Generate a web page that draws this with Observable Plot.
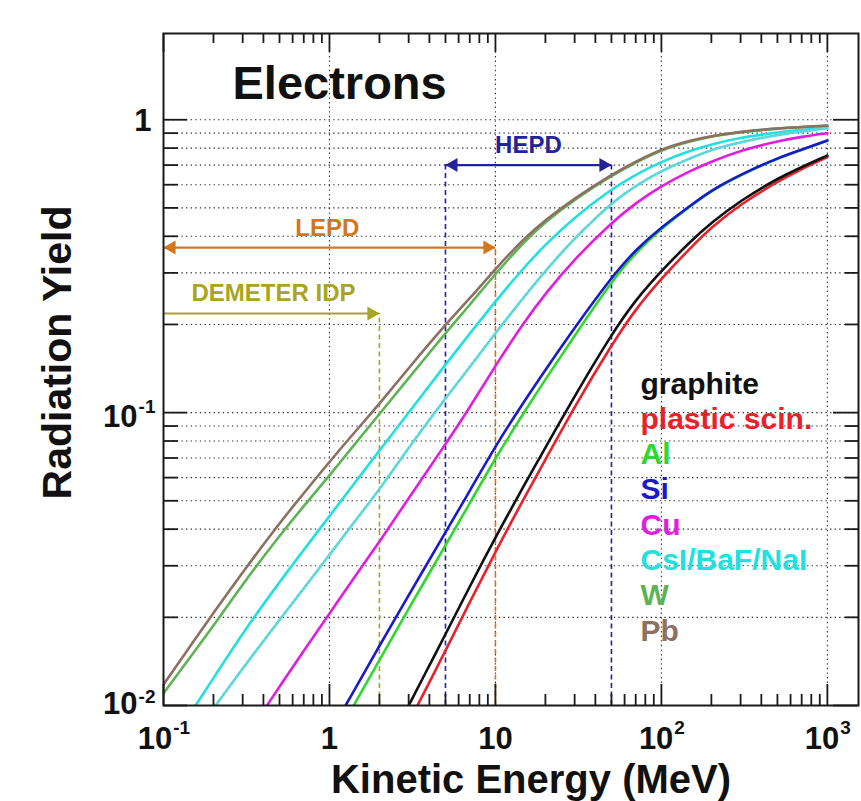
<!DOCTYPE html>
<html><head><meta charset="utf-8">
<script src="https://cdn.jsdelivr.net/npm/d3@7"></script>
<script src="https://cdn.jsdelivr.net/npm/@observablehq/plot@0.6"></script>
<style>body{margin:0;background:#fff;font-family:"Liberation Sans",Arial,sans-serif;}</style>
</head><body><div id="chart"></div>
<script>
// ---------- data ----------
const materials = ["graphite","plastic scin.","Al","Si","Cu","CsI/BaF/NaI","W","Pb"];
const materialColors = ["#111111","#e8222b","#2ed82e","#1a1ac8","#e01ee0","#22e0e0","#5cb454","#8c7062"];

const graphiteE = [3,4,5,7,10,15,20,30,50,70,100,150,200,300,500,700,1000];
const graphiteY = [0.01,0.0137,0.0175,0.0255,0.0375,0.057,0.076,0.114,0.185,0.243,0.305,0.385,0.445,0.53,0.63,0.69,0.755];
const plasticE = [3.39,4,5,7,10,15,20,30,50,70,100,150,200,300,500,700,1000];
const plasticY = [0.01,0.012,0.0154,0.0225,0.0335,0.0515,0.069,0.105,0.17,0.226,0.287,0.366,0.43,0.515,0.615,0.68,0.745];
const alE = [1.4,2,3,5,7,10,15,20,30,50,70,100,150,200,300,500,700,1000];
const alY = [0.01,0.0143,0.0214,0.0352,0.049,0.07,0.101,0.13,0.183,0.28,0.352,0.425,0.507,0.572,0.648,0.738,0.788,0.848];
const siE = [1.25,2,3,5,7,10,15,20,30,50,70,100,150,200,300,500,700,1000];
const siY = [0.01,0.016,0.0238,0.039,0.054,0.077,0.11,0.14,0.195,0.29,0.36,0.43,0.51,0.575,0.65,0.74,0.79,0.85];
const cuE = [0.42,0.5,0.7,1,1.5,2,3,5,7,10,15,20,30,50,70,100,150,200,300,500,700,1000];
const cuY = [0.01,0.0116,0.0154,0.0206,0.0288,0.0362,0.051,0.078,0.104,0.145,0.205,0.255,0.335,0.445,0.52,0.595,0.67,0.72,0.785,0.845,0.875,0.90];
const csiE = [0.156,0.2,0.3,0.5,0.7,1,1.5,2,3,5,7,10,15,20,30,50,70,100,150,200,300,500,700,1000];
const csiY = [0.01,0.0124,0.0177,0.0264,0.034,0.0443,0.06,0.0742,0.10,0.146,0.186,0.24,0.315,0.375,0.465,0.58,0.65,0.72,0.785,0.825,0.87,0.905,0.925,0.94];
const nalE = [0.206,0.3,0.5,0.7,1,1.5,2,3,5,7,10,15,20,30,50,70,100,150,200,300,500,700,1000];
const nalY = [0.01,0.0134,0.0196,0.0251,0.0327,0.0443,0.0546,0.076,0.112,0.143,0.187,0.25,0.305,0.395,0.52,0.595,0.67,0.74,0.79,0.84,0.888,0.912,0.935];
const wE = [0.1,0.15,0.2,0.3,0.5,0.7,1,1.5,2,3,5,7,10,15,20,30,50,70,100,150,200,300,500,700,1000];
const wY = [0.0110,0.0150,0.0187,0.026,0.038,0.048,0.061,0.081,0.099,0.131,0.187,0.233,0.298,0.385,0.448,0.535,0.645,0.715,0.79,0.845,0.878,0.908,0.933,0.944,0.954];
const pbE = [0.1,0.15,0.2,0.3,0.5,0.7,1,1.5,2,3,5,7,10,15,20,30,50,70,100,150,200,300,500,700,1000];
const pbY = [0.0118,0.0164,0.0207,0.0285,0.042,0.053,0.068,0.089,0.107,0.142,0.2,0.245,0.31,0.395,0.455,0.54,0.65,0.72,0.795,0.85,0.88,0.91,0.935,0.945,0.955];

// annotations: detector energy ranges
const annLabels = ["DEMETER IDP","LEPD","HEPD"];
const annColors = ["#a8a426","#d4761c","#22229a"];
const annFrom = [0.1, 0.1, 5];
const annTo = [2, 10, 50];
const annLevel = [0.218, 0.366, 0.70];
const annLabelE = [0.46, 0.97, 15.8];
const annStartHead = [false, true, true];

// ticks
const xMajor = [0.1, 1, 10, 100, 1000];
const xTickBase = ["10","1","10","10","10"];
const xTickExp = ["-1","","","2","3"];
const yMajor = [0.01, 0.1, 1];
const yTickBase = ["10","10","1"];
const yTickExp = ["-2","-1",""];

// ---------- layout ----------
const W = 861, H = 801, mL = 163, mR = 3, mT = 33, mB = 96;
const fW = W - mL - mR, fH = H - mT - mB;
const FONT = "Liberation Sans, Arial, sans-serif";

const xMinor = [], yMinor = [];
for (const k of [-1,0,1,2]) for (let m = 2; m <= 9; m++) xMinor.push(+(m * 10 ** k).toPrecision(3));
for (const k of [-2,-1,0]) for (let m = 2; m <= 9; m++) { const v = +(m * 10 ** k).toPrecision(3); if (v < 1.97) yMinor.push(v); }

const series = [
  {E: plasticE, Y: plasticY, c: materialColors[1]},
  {E: graphiteE, Y: graphiteY, c: materialColors[0]},
  {E: alE, Y: alY, c: materialColors[2]},
  {E: siE, Y: siY, c: materialColors[3]},
  {E: cuE, Y: cuY, c: materialColors[4]},
  {E: csiE, Y: csiY, c: materialColors[5]},
  {E: wE, Y: wY, c: materialColors[6]},
  {E: pbE, Y: pbY, c: materialColors[7]}
];

const gridStyle = {stroke: "#333", strokeWidth: 1.1, strokeDasharray: "1.4,3.2"};
const marks = [];
// grid
marks.push(Plot.ruleY([...yMinor, 0.1, 1], gridStyle));
marks.push(Plot.ruleX(xMajor.slice(1), gridStyle));
// vertical dashed annotation lines
annLabels.forEach((lab, i) => {
  const xs = annStartHead[i] && annFrom[i] > 0.1 ? [annFrom[i], annTo[i]] : [annTo[i]];
  marks.push(Plot.ruleX(xs, {x: d => d, y1: 0.01, y2: annLevel[i], stroke: annColors[i], strokeWidth: 1.6, strokeDasharray: "5,3.5"}));
});
// curves
const lineOpts = {x: "E", y: "Y", strokeWidth: 2.6, curve: "basis", clip: true};
for (const s of series) {
  marks.push(Plot.line(s.E.map((e, j) => ({E: e, Y: s.Y[j]})), {...lineOpts, stroke: s.c}));
}
// dotted second cyan curve
marks.push(Plot.line(nalE.map((e, j) => ({E: e, Y: nalY[j]})), {...lineOpts, stroke: "#5cd8dc", strokeWidth: 2.8, strokeDasharray: "2.2,2.2"}));
// annotation arrows
annLabels.forEach((lab, i) => {
  marks.push(Plot.ruleY([annLevel[i]], {y: d => d, x1: annFrom[i], x2: annTo[i], stroke: annColors[i], strokeWidth: 2.2}));
  marks.push(Plot.dot([annTo[i]], {x: d => d, y: annLevel[i], symbol: "triangle", r: 5.2, rotate: 90, dx: -8, fill: annColors[i], stroke: "none"}));
  if (annStartHead[i]) marks.push(Plot.dot([annFrom[i]], {x: d => d, y: annLevel[i], symbol: "triangle", r: 5.2, rotate: -90, dx: 8, fill: annColors[i], stroke: "none"}));
  marks.push(Plot.text([lab], {x: annLabelE[i], y: annLevel[i], dy: -12, text: d => d, fill: annColors[i], fontSize: 24, fontWeight: "bold", fontFamily: FONT, textAnchor: "middle", lineAnchor: "bottom"}));
});
// frame + ticks
marks.push(Plot.frame({stroke: "#1a1a1a", strokeWidth: 2}));
const tk = {stroke: "#1a1a1a", strokeWidth: 1.8};
marks.push(Plot.ruleX(xMajor, {...tk, insetTop: fH - 21}));
marks.push(Plot.ruleX(xMinor, {...tk, insetTop: fH - 11}));
marks.push(Plot.ruleX(xMajor, {...tk, insetBottom: fH - 19}));
marks.push(Plot.ruleX(xMinor, {...tk, insetBottom: fH - 10}));
marks.push(Plot.ruleY(yMajor, {...tk, insetRight: fW - 24}));
marks.push(Plot.ruleY(yMinor, {...tk, insetRight: fW - 15}));
marks.push(Plot.ruleY(yMajor, {...tk, insetLeft: fW - 25}));
marks.push(Plot.ruleY(yMinor, {...tk, insetLeft: fW - 13}));
// x tick labels
const baseFs = 31, expFs = 19;
const wBase = s => s.length * 0.556 * baseFs;
const wExp = s => [...s].reduce((a, ch) => a + (ch === "-" ? 0.333 : 0.556), 0) * expFs;
xMajor.forEach((v, i) => {
  const b = xTickBase[i], e = xTickExp[i];
  const lbl = {fill: "#111", fontWeight: "bold", fontFamily: FONT, lineAnchor: "bottom", frameAnchor: "bottom"};
  if (!e) {
    marks.push(Plot.text([b], {x: () => v, text: d => d, ...lbl, fontSize: baseFs, textAnchor: "middle", dy: 43}));
  } else {
    const off = (wBase(b) - wExp(e)) / 2;
    marks.push(Plot.text([b], {x: () => v, text: d => d, ...lbl, fontSize: baseFs, textAnchor: "end", dx: off, dy: 43}));
    marks.push(Plot.text([e], {x: () => v, text: d => d, ...lbl, fontSize: expFs, textAnchor: "start", dx: off + 1, dy: 28}));
  }
});
// y tick labels
const yBaseDy = [8, 14, 11], yExpDy = [-3, 0, 0];
yMajor.forEach((v, i) => {
  const b = yTickBase[i], e = yTickExp[i];
  const lbl = {fill: "#111", fontWeight: "bold", fontFamily: FONT, lineAnchor: "bottom", frameAnchor: "left"};
  if (!e) {
    marks.push(Plot.text([b], {y: () => v, text: d => d, ...lbl, fontSize: baseFs, textAnchor: "end", dx: -12, dy: yBaseDy[i]}));
  } else {
    const we = wExp(e);
    marks.push(Plot.text([e], {y: () => v, text: d => d, ...lbl, fontSize: expFs, textAnchor: "end", dx: -8, dy: yExpDy[i]}));
    marks.push(Plot.text([b], {y: () => v, text: d => d, ...lbl, fontSize: baseFs, textAnchor: "end", dx: -9 - we, dy: yBaseDy[i]}));
  }
});
// legend
materials.forEach((m, i) => {
  marks.push(Plot.text([m], {text: d => d, frameAnchor: "top-left", dx: 477, dy: 360 + i * 35.3, fill: materialColors[i], fontSize: 30, fontWeight: "bold", fontFamily: FONT, textAnchor: "start", lineAnchor: "bottom"}));
});
// title inside frame
marks.push(Plot.text(["Electrons"], {text: d => d, frameAnchor: "top-left", dx: 69, dy: 65, fill: "#111", fontSize: 47, fontWeight: "bold", fontFamily: FONT, textAnchor: "start", lineAnchor: "bottom"}));
// axis titles
marks.push(Plot.text(["Kinetic Energy (MeV)"], {text: d => d, frameAnchor: "bottom", dx: 20, dy: 87, fill: "#111", fontSize: 40, fontWeight: "bold", fontFamily: FONT, textAnchor: "middle", lineAnchor: "bottom"}));
marks.push(Plot.text(["Radiation Yield"], {text: d => d, frameAnchor: "left", dx: -93, dy: -17, rotate: -90, fill: "#111", fontSize: 41, fontWeight: "bold", fontFamily: FONT, textAnchor: "middle", lineAnchor: "bottom"}));

const chart = Plot.plot({
  width: W, height: H,
  marginLeft: mL, marginRight: mR, marginTop: mT, marginBottom: mB,
  style: {background: "#fff", fontFamily: FONT, overflow: "visible"},
  x: {type: "log", domain: [0.1, 1540], axis: null},
  y: {type: "log", domain: [0.01, 1.97], axis: null},
  marks
});
document.getElementById("chart").appendChild(chart);
</script>
</body></html>
